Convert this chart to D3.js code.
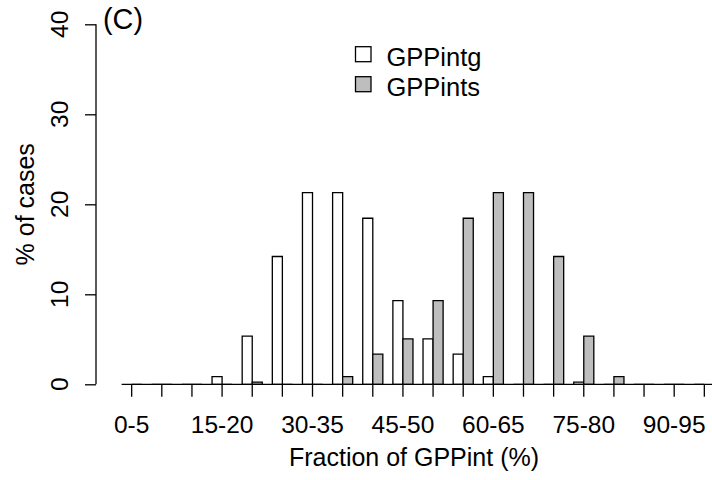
<!DOCTYPE html>
<html>
<head>
<meta charset="utf-8">
<script src="https://cdn.jsdelivr.net/npm/d3@7"></script>
<style>
  html, body { margin: 0; padding: 0; background: #fff; }
  svg { display: block; }
  text { font-family: "Liberation Sans", Arial, sans-serif; fill: #000; }
</style>
</head>
<body>
<svg id="chart" width="712" height="480"></svg>
<script>
// ---- data ----
const categories = ["0-5","5-10","10-15","15-20","20-25","25-30","30-35","35-40","40-45","45-50",
                    "50-55","55-60","60-65","65-70","70-75","75-80","80-85","85-90","90-95","95-100"];
const seriesNames = ["GPPintg", "GPPints"];
const gppintg = [0, 0, 0, 0.85, 5.35, 14.2, 21.3, 21.3, 18.45, 9.3, 5.05, 3.35, 0.85, 0, 0, 0.25, 0, 0, 0, 0];
const gppints = [0, 0, 0, 0, 0.25, 0, 0, 0.85, 3.35, 5.05, 9.3, 18.45, 21.3, 21.3, 14.2, 5.35, 0.85, 0, 0, 0];
const yTicks = [0, 10, 20, 30, 40];
const labelledCategories = ["0-5", "15-20", "30-35", "45-50", "60-65", "75-80", "90-95"];
const colors = ["#ffffff", "#bebebe"];

// ---- drawing ----
const svg = d3.select("#chart");
const tickFont = 24.5, titleFont = 25, legendFont = 25.5;

const x0 = d3.scaleBand().domain(categories).range([116.6, 719.4]).paddingInner(1/3).paddingOuter(1/6);
const x1 = d3.scaleBand().domain(seriesNames).range([0, x0.bandwidth()]);
const y = d3.scaleLinear().domain([0, 40]).range([384.3, 24.3]);

const values = [gppintg, gppints];
const bars = [];
categories.forEach((c, i) => {
  seriesNames.forEach((s, j) => bars.push({c, s, j, v: values[j][i]}));
});

svg.append("g").selectAll("path").data(bars).join("path")
  .attr("d", d => {
    const xa = x0(d.c) + x1(d.s), xb = xa + x1.bandwidth();
    const ya = y(0), yb = y(d.v);
    return `M${xa},${ya}H${xb}V${yb}H${xa}Z`;
  })
  .attr("fill", d => colors[d.j])
  .attr("stroke", "#000")
  .attr("stroke-width", 1.3);

// x axis (ticks at group centres, labels only where R had room)
const xAxis = d3.axisBottom(x0).tickSize(12.4).tickSizeOuter(0)
  .tickFormat(d => labelledCategories.includes(d) ? d : "");
const gx = svg.append("g").attr("transform", `translate(0,${y(0)})`).call(xAxis);
gx.select(".domain").remove();
gx.selectAll(".tick line").attr("stroke", "#000").attr("stroke-width", 1.3);
gx.selectAll(".tick text").attr("font-size", tickFont).attr("dy", null).attr("y", 48.4)
  .attr("font-family", "Liberation Sans, Arial, sans-serif");
gx.append("line")
  .attr("x1", x0(categories[0]) + x0.bandwidth()/2)
  .attr("x2", x0(categories[categories.length-1]) + x0.bandwidth()/2)
  .attr("stroke", "#000").attr("stroke-width", 1.3);

// y axis
const yAxis = d3.axisLeft(y).tickValues(yTicks).tickSize(11).tickSizeOuter(0);
const gy = svg.append("g").attr("transform", "translate(96,0)").call(yAxis);
gy.select(".domain").attr("stroke", "#000").attr("stroke-width", 1.3)
  .attr("d", `M0,${y(0)}V${y(40)}`);
gy.selectAll(".tick line").attr("stroke", "#000").attr("stroke-width", 1.3);
gy.selectAll(".tick text").remove();
svg.append("g").selectAll("text").data(yTicks).join("text")
  .attr("transform", d => `translate(68,${y(d)}) rotate(-90)`)
  .attr("text-anchor", "middle")
  .attr("font-size", tickFont)
  .text(d => d);

// axis titles
svg.append("text")
  .attr("transform", `translate(33.5,${y(20)}) rotate(-90)`)
  .attr("text-anchor", "middle").attr("font-size", titleFont)
  .text("% of cases");
svg.append("text")
  .attr("x", 414).attr("y", 466)
  .attr("text-anchor", "middle").attr("font-size", titleFont)
  .text("Fraction of GPPint (%)");

// panel label
svg.append("text").attr("x", 103).attr("y", 28.5).attr("font-size", 28.8).text("(C)");

// legend
const legend = svg.append("g");
seriesNames.forEach((s, j) => {
  const cy = 54.2 + j * 30;
  legend.append("rect").attr("x", 355.5).attr("y", cy - 7.5).attr("width", 15.5).attr("height", 15)
    .attr("fill", colors[j]).attr("stroke", "#000").attr("stroke-width", 1.3);
  legend.append("text").attr("x", 386.5).attr("y", cy + 12).attr("font-size", legendFont).text(s);
});
</script>
</body>
</html>
